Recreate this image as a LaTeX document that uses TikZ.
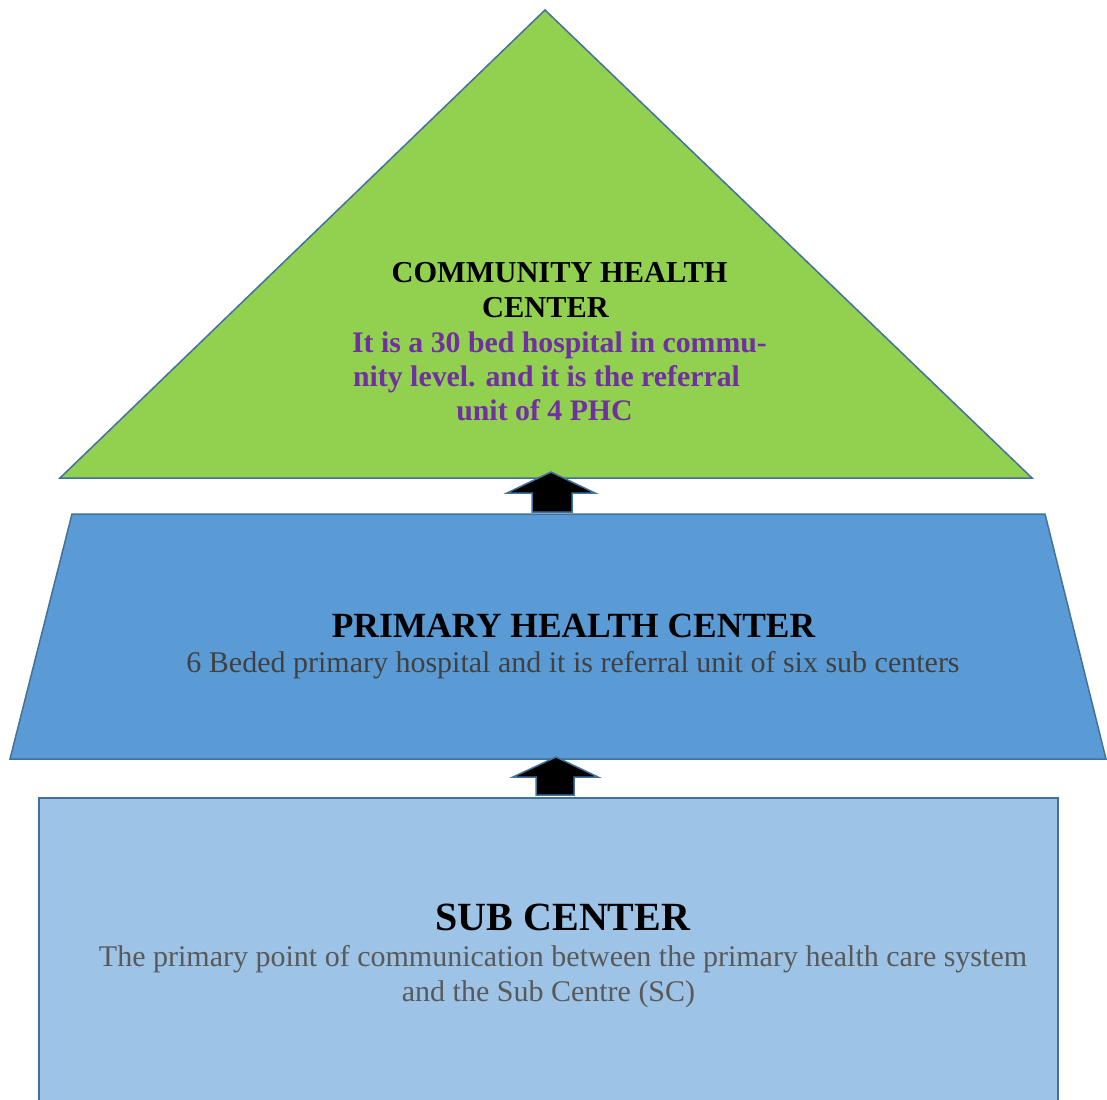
\documentclass[tikz,border=0pt]{standalone}
\usepackage{fontspec}
\setmainfont{Liberation Serif}
\definecolor{chcgreen}{HTML}{92D050}
\definecolor{phcblue}{HTML}{5B9BD5}
\definecolor{sclight}{HTML}{9DC3E6}
\definecolor{edgeblue}{HTML}{41719C}
\definecolor{notepurple}{HTML}{7030A0}
\definecolor{notegray}{HTML}{404040}
\definecolor{scgray}{HTML}{595959}
\tikzset{
  level/.style={draw=edgeblue, line width=1.5pt, line join=miter},
  uparrow/.style={draw=edgeblue, line width=1.5pt, fill=black, line join=miter},
  txt/.style={inner sep=0pt, anchor=base},
}
\begin{document}
\begin{tikzpicture}[x=1pt,y=-1pt]
\useasboundingbox (0,0) rectangle (1107,1099);
\clip (0,0) rectangle (1107,1099);
% sub centre base block
\path[level, fill=sclight] (39,798) rectangle (1058,1110);
% primary health centre trapezoid
\path[level, fill=phcblue] (72,514) -- (1045,514) -- (1106,759) -- (10,759) -- cycle;
% community health centre triangle
\path[level, fill=chcgreen] (545,10) -- (1032,478) -- (60,478) -- cycle;
% block arrows between the levels
\path[uparrow] (551,472) -- (595,493) -- (572,493) -- (572,512) -- (532,512) -- (532,493) -- (507,493) -- cycle;
\path[uparrow] (556,757) -- (598,777) -- (574,777) -- (574,795) -- (536,795) -- (536,777) -- (513,777) -- cycle;
% community health centre text
\node[txt, font=\fontsize{30.4}{34}\selectfont\bfseries] (chc1) at (559.5,282) {COMMUNITY HEALTH};
\node[txt, font=\fontsize{30.4}{34}\selectfont\bfseries] (chc2) at (545.5,317) {CENTER};
\node[txt, text=notepurple, font=\fontsize{29.8}{34}\selectfont\bfseries] (chc3) at (559.5,352) {It is a 30 bed hospital in commu-};
\node[txt, text=notepurple, font=\fontsize{29.8}{34}\selectfont\bfseries] (chc4) at (546.5,386) {nity level. and it is the referral};
\node[txt, text=notepurple, font=\fontsize{29.8}{34}\selectfont\bfseries] (chc5) at (544.5,420) {unit of 4 PHC};
% primary health centre text
\node[txt, font=\fontsize{35.4}{40}\selectfont\bfseries] (phc1) at (573.5,637) {PRIMARY HEALTH CENTER};
\node[txt, text=notegray, font=\fontsize{30}{34}\selectfont] (phc2) at (573,672) {6 Beded primary hospital and it is referral unit of six sub centers};
% sub centre text
\node[txt, font=\fontsize{40}{46}\selectfont\bfseries] (sc1) at (563,930) {SUB CENTER};
\node[txt, text=scgray, font=\fontsize{30}{34}\selectfont] (sc2) at (563,966) {The primary point of communication between the primary health care system};
\node[txt, text=scgray, font=\fontsize{30}{34}\selectfont] (sc3) at (548.5,1001) {and the Sub Centre (SC)};
\end{tikzpicture}
\end{document}
